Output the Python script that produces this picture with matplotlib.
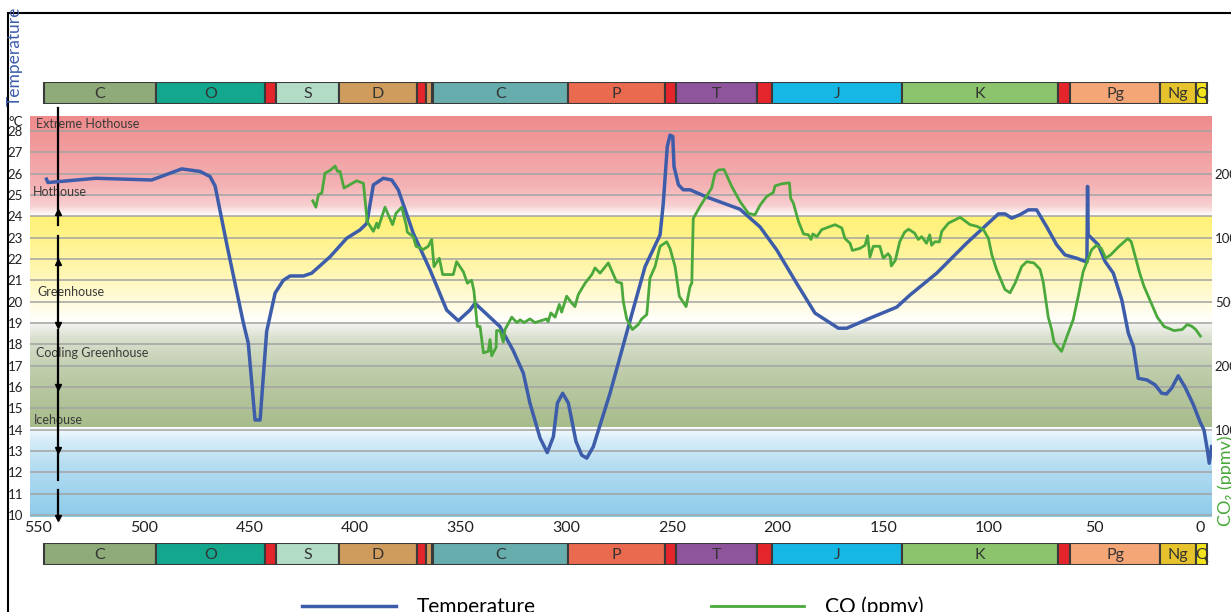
import numpy as np
import matplotlib.pyplot as plt
from matplotlib.colors import LinearSegmentedColormap
from matplotlib.patches import Rectangle
from matplotlib.ticker import NullLocator

# ==========================================
# DATA
# ==========================================
# Geological periods (age in Ma, start -> end)
period_labels = ['C', 'O', '', 'S', 'D', '', '', 'C', 'P', '', 'T', '', 'J', 'K', '', 'Pg', 'Ng', 'Q']
period_start = [547.2, 494.2, 442.6, 437.4, 407.5, 370.6, 366.4, 363.2, 299.2, 253.3, 248.1, 209.7,
                202.6, 141.1, 67.3, 61.6, 19.0, 2.0]
period_end = [494.2, 442.6, 437.4, 407.5, 370.6, 366.4, 363.6, 299.2, 253.3, 248.1, 209.7, 202.6,
              141.1, 67.3, 61.6, 19.0, 2.0, -3.2]
period_colors = ['#8FAB79', '#13A88E', '#E4262C', '#B3DCC7', '#CF9C5E', '#E4262C', '#CF9C5E', '#67ADAD',
                 '#EA6A4F', '#E4262C', '#8E559C', '#E4262C', '#16B7E4', '#8BC46D', '#E4262C', '#F5A677',
                 '#E6C32C', '#F4E41C']

# Global temperature (deg C) vs age (Ma)
temp_age = [546.0, 545.3, 522.6, 496.2, 482.0, 473.3, 468.6, 466.2, 460.7, 452.8,
            450.5, 447.3, 444.9, 441.8, 437.8, 433.9, 430.7, 424.4, 420.5, 411.8,
            403.9, 397.6, 394.4, 391.3, 386.6, 382.6, 379.5, 372.4, 364.5, 356.6,
            351.1, 345.6, 343.2, 331.4, 325.1, 320.3, 317.2, 312.4, 309.0, 306.1,
            304.2, 301.7, 299.0, 295.4, 292.7, 290.3, 287.2, 279.3, 270.6, 262.7,
            255.6, 254.1, 252.2, 250.9, 249.6, 249.0, 246.9, 244.6, 241.4, 233.5,
            217.8, 208.3, 200.4, 191.0, 182.3, 171.2, 167.3, 156.3, 143.6, 137.3,
            124.7, 110.5, 95.5, 92.3, 89.2, 85.3, 81.3, 77.4, 72.6, 67.9,
            64.0, 58.4, 53.6, 53.3, 53.0, 48.2, 45.0, 41.1, 37.1, 34.0,
            31.6, 29.3, 25.3, 21.4, 18.2, 15.9, 13.5, 10.4, 7.2, 3.2,
            0.1, -1.8, -3.4, -4.3, -5.4]
temp_c = [25.74, 25.58, 25.78, 25.70, 26.22, 26.10, 25.86, 25.42, 22.70, 18.99,
          18.05, 14.45, 14.45, 18.60, 20.40, 21.00, 21.20, 21.20, 21.33, 22.10,
          22.97, 23.36, 23.67, 25.47, 25.78, 25.70, 25.24, 23.20, 21.49, 19.60,
          19.10, 19.60, 19.92, 18.83, 17.70, 16.64, 15.24, 13.60, 12.92, 13.67,
          15.24, 15.70, 15.24, 13.44, 12.80, 12.66, 13.20, 15.70, 18.83, 21.64,
          23.13, 24.60, 27.27, 27.80, 27.74, 26.33, 25.47, 25.24, 25.24, 24.90,
          24.33, 23.50, 22.42, 20.86, 19.46, 18.75, 18.75, 19.22, 19.74, 20.31,
          21.33, 22.74, 24.11, 24.11, 23.91, 24.07, 24.30, 24.30, 23.50, 22.66,
          22.19, 22.03, 21.85, 25.40, 23.13, 22.66, 21.88, 21.33, 20.08, 18.52,
          17.89, 16.40, 16.33, 16.10, 15.70, 15.67, 15.94, 16.52, 16.00, 15.16,
          14.37, 13.98, 13.05, 12.42, 13.20]

# Atmospheric CO2 (ppmv) vs age (Ma)
co2_age = [420.0, 418.5, 417.3, 415.7, 414.2, 411.8, 409.4, 408.3, 407.1, 405.2,
           399.2, 396.0, 394.2, 391.3, 389.7, 389.0, 385.8, 382.2, 380.6, 377.9,
           375.8, 375.2, 372.4, 371.1, 367.6, 365.3, 363.7, 362.6, 360.1, 358.5,
           353.5, 351.9, 348.7, 346.8, 344.8, 343.7, 342.1, 340.8, 339.2, 336.9,
           336.1, 335.3, 333.2, 333.0, 331.4, 329.8, 329.0, 325.8, 323.4, 321.8,
           320.0, 317.2, 314.8, 309.3, 308.6, 307.3, 305.3, 303.3, 302.2, 299.8,
           297.4, 295.9, 294.3, 291.1, 287.9, 286.4, 284.0, 280.1, 276.2, 273.8,
           273.0, 271.4, 268.7, 265.9, 264.3, 261.9, 260.4, 258.0, 255.6, 252.5,
           250.9, 248.5, 246.5, 243.3, 241.4, 240.6, 239.9, 236.7, 235.2, 231.2,
           229.6, 228.0, 225.3, 221.7, 217.8, 213.8, 210.7, 208.3, 205.2, 202.0,
           201.2, 198.1, 194.4, 193.8, 192.5, 190.1, 187.7, 185.4, 184.2, 183.3,
           181.4, 179.1, 172.8, 169.6, 168.1, 165.7, 164.6, 161.0, 158.6, 157.4,
           156.3, 154.7, 151.6, 150.0, 147.7, 146.6, 146.2, 144.3, 142.2, 139.9,
           138.0, 135.2, 133.4, 131.8, 129.5, 128.0, 127.1, 125.6, 123.4, 122.3,
           119.1, 113.6, 108.9, 105.7, 102.6, 100.2, 98.6, 96.3, 92.4, 90.0,
           87.6, 84.5, 82.1, 78.7, 75.8, 74.3, 71.9, 70.3, 69.2, 67.2,
           65.6, 63.2, 60.1, 57.7, 55.4, 51.4, 49.1, 46.8, 44.7, 42.3,
           38.9, 34.2, 32.6, 28.6, 26.6, 20.3, 17.1, 12.4, 8.5, 6.1,
           3.8, 2.1, -0.1]
co2_ppm = [1490, 1390, 1590, 1620, 2010, 2070, 2170, 2050, 2050, 1710,
           1850, 1800, 1190, 1070, 1170, 1110, 1390, 1150, 1300, 1390,
           1150, 1060, 1010, 910, 880, 910, 980, 730, 800, 670,
           670, 770, 690, 610, 630, 560, 350, 350, 240, 245,
           290, 230, 260, 330, 330, 280, 335, 400, 370, 385,
           370, 390, 370, 390, 375, 425, 400, 480, 430, 530,
           490, 465, 540, 610, 670, 720, 680, 760, 620, 610,
           500, 390, 335, 360, 390, 415, 645, 730, 910, 955,
           890, 730, 530, 465, 590, 610, 1230, 1400, 1480, 1710,
           2010, 2080, 2090, 1740, 1480, 1300, 1280, 1420, 1560, 1630,
           1750, 1790, 1810, 1530, 1450, 1190, 1040, 1030, 980, 1040,
           1010, 1090, 1150, 1110, 990, 940, 870, 890, 920, 1020,
           810, 910, 910, 800, 840, 810, 735, 780, 955, 1060,
           1095, 1050, 980, 1010, 940, 1030, 920, 955, 955, 1070,
           1170, 1245, 1150, 1130, 1090, 990, 830, 705, 570, 550,
           610, 730, 770, 760, 710, 620, 400, 335, 280, 260,
           245, 300, 385, 530, 690, 875, 920, 890, 800, 830,
           900, 990, 955, 680, 590, 400, 350, 330, 335, 360,
           350, 335, 305]

# CO2 axis labels and where they sit on the temperature scale
co2_ticks = [100, 200, 500, 1000, 2000]
co2_tick_temp = [14, 17, 20, 23, 26]

# climate state bands (temperature range)
band_lo = [24.0, 19.0, 14.1, 9.9]
band_hi = [28.7, 24.0, 19.0, 14.1]

# ==========================================
# SETTINGS
# ==========================================
W, H = 1231, 612
X_LEFT, X_RIGHT = 553.8, -5.6
T_BOT, T_TOP = 9.9, 28.7
BLUE = '#3D5DAB'
GREEN = '#4AA83C'
TXT = '#3A3A3A'

plt.rcParams['font.family'] = ['Lato', 'DejaVu Sans']


def fx(px):
    return px / W


def fy(py):
    return 1 - py / H


fig = plt.figure(figsize=(W / 100, H / 100), dpi=100)
ax = fig.add_axes([fx(30), fy(517), fx(1212) - fx(30), fy(116) - fy(517)])
ax.set_xlim(X_LEFT, X_RIGHT)
ax.set_ylim(T_BOT, T_TOP)

# --- background bands ---
band_stops = [
    [(0, '#FFFFFF'), (0.1, '#F8D0D1'), (0.3, '#F4B2B4'), (1, '#EF8A8B')],
    [(0, '#FFFFFF'), (0.2, '#FFFBDD'), (0.5, '#FFF6AE'), (1, '#FFF174')],
    [(0, '#A7BC8B'), (0.5, '#BDCBA8'), (0.85, '#D9E0CE'), (1, '#F6F6F4')],
    [(0, '#8DCBEA'), (0.55, '#B3DCF1'), (0.85, '#D6ECF8'), (1, '#F8FCFE')],
]
grad = np.linspace(0, 1, 256).reshape(-1, 1)
for lo, hi, stops in zip(band_lo, band_hi, band_stops):
    cmap = LinearSegmentedColormap.from_list('band', stops)
    ax.imshow(grad, cmap=cmap, extent=[X_LEFT, X_RIGHT, lo, hi], origin='lower',
              aspect='auto', zorder=0, interpolation='bilinear')

for t in range(10, 29):
    ax.axhline(t, color='#A3A3A3', lw=1.1, zorder=1)

# band names
for name, age, t in [('Extreme Hothouse', 550.9, 28.33), ('Hothouse', 552.4, 25.14),
                     ('Greenhouse', 550.5, 20.45), ('Cooling Greenhouse', 550.9, 17.6),
                     ('Icehouse', 551.9, 14.45)]:
    ax.text(age, t, name, fontsize=9, color=TXT, ha='left', va='center', zorder=2)

# --- state arrows on the left ---
ARROW_X = 540.5
for t0, t1 in [(29.08, 23.6), (23.08, 18.9), (18.67, 11.64), (11.17, 9.85)]:
    ax.plot([ARROW_X, ARROW_X], [t0, t1], color='black', lw=1.6, zorder=2, clip_on=False)
ax.plot([ARROW_X] * 2, [24.2, 21.86], ls='none', marker='^', ms=5, color='black', zorder=2)
ax.plot([ARROW_X] * 4, [18.9, 16.0, 13.05, 9.85], ls='none', marker='v', ms=5, color='black',
        zorder=2, clip_on=False)

# --- temperature curve ---
line_t, = ax.plot(temp_age, temp_c, color=BLUE, lw=2.5, zorder=3, solid_joinstyle='round')

ax.set_xticks(range(0, 551, 50))
ax.set_yticks(range(10, 29))
ax.tick_params(axis='x', length=0, pad=3, labelsize=11.5, labelcolor='#222222')
ax.tick_params(axis='y', length=0, pad=5, labelsize=9.5, labelcolor='#222222')
for s in ax.spines.values():
    s.set_visible(False)

# --- CO2 on a twin axis ---
anchor_ppm = [25] + co2_ticks + [4000]
anchor_t = [8] + co2_tick_temp + [29]
log_anchor = np.log10(anchor_ppm)


def ppm_to_pos(v):
    return np.interp(np.log10(np.clip(v, 1e-3, None)), log_anchor, anchor_t)


def pos_to_ppm(p):
    return 10 ** np.interp(p, anchor_t, log_anchor)


ax2 = ax.twinx()
ax2.set_yscale('function', functions=(ppm_to_pos, pos_to_ppm))
ax2.set_ylim(pos_to_ppm(T_BOT), pos_to_ppm(T_TOP))
line_c, = ax2.plot(co2_age, co2_ppm, color=GREEN, lw=2.0, zorder=3, solid_joinstyle='round')
ax2.set_yticks(co2_ticks)
ax2.set_yticklabels([str(v) for v in co2_ticks])
ax2.yaxis.set_minor_locator(NullLocator())
ax2.tick_params(axis='y', length=0, pad=2, labelsize=9.5, labelcolor='#222222')
for s in ax2.spines.values():
    s.set_visible(False)

# --- period bars (top and bottom) ---
for y0 in (82, 543):
    axb = fig.add_axes([fx(30), fy(y0 + 22), fx(1212) - fx(30), 22 / H])
    axb.set_xlim(X_LEFT, X_RIGHT)
    axb.set_ylim(0, 1)
    axb.axis('off')
    widths = [s - e for s, e in zip(period_start, period_end)]
    axb.barh(0.5, widths, left=period_end, height=1, color=period_colors,
             edgecolor='#3A3A3A', linewidth=1.5)
    for lab, s, e in zip(period_labels, period_start, period_end):
        if lab:
            axb.text((s + e) / 2, 0.45, lab, ha='center', va='center', fontsize=11.5,
                     color='#333333', clip_on=True)

# --- frame and side labels ---
fig.add_artist(Rectangle((fx(8), -0.1), 1.2, fy(13) + 0.1, transform=fig.transFigure,
                         fill=False, edgecolor='black', lw=1.5))
fig.text(fx(8), fy(122), '°C', fontsize=9.5, color='#222222', ha='left', va='center')
fig.text(fx(15), fy(106), 'Temperature', rotation=90, ha='center', va='bottom',
         color=BLUE, fontsize=12.5)
fig.text(fx(1226), fy(526), 'CO₂ (ppmv)', rotation=90, ha='center', va='bottom',
         color=GREEN, fontsize=13)

# --- legend ---
fig.legend([line_t, line_c], ['Temperature', 'CO (ppmv)'], loc='lower left',
           bbox_to_anchor=(fx(302), fy(617)), ncol=2, frameon=False, borderpad=0,
           borderaxespad=0, handlelength=4.5, handletextpad=1.0, columnspacing=8.4,
           fontsize=15)

fig.savefig('out.png', dpi=100)
